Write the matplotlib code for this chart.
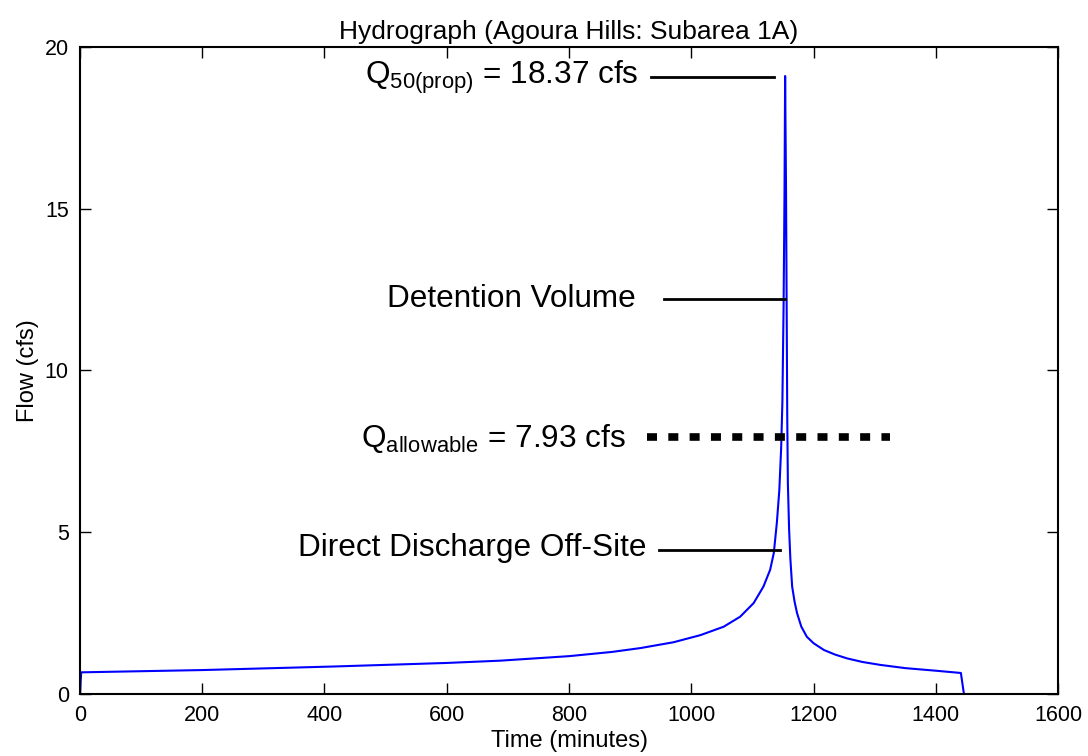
import matplotlib
matplotlib.use("Agg")
import matplotlib.pyplot as plt

plt.rcParams['font.family'] = ['Liberation Sans', 'DejaVu Sans']
plt.rcParams['mathtext.fontset'] = 'custom'
plt.rcParams['mathtext.rm'] = 'Liberation Sans'
plt.rcParams['mathtext.it'] = 'Liberation Sans'

# hydrograph (minutes, cfs)
time_min = [0, 2, 200, 415, 600, 687, 800, 870, 917, 971, 1015, 1053, 1080,
            1102, 1118, 1129, 1135, 1140, 1144, 1147, 1149, 1151, 1152.5, 1153.5,
            1155, 1156, 1157, 1158, 1160, 1162, 1165, 1169, 1173, 1180, 1189,
            1200, 1217, 1235, 1255, 1280, 1309, 1350, 1400, 1441, 1446]
flow_cfs = [0, 0.67, 0.74, 0.85, 0.96, 1.03, 1.17, 1.3, 1.42, 1.6, 1.82, 2.08, 2.39,
            2.81, 3.32, 3.84, 4.36, 5.3, 6.3, 7.6, 9.0, 12.0, 15.5, 19.1,
            15.5, 12.0, 8.5, 6.5, 5.1, 4.2, 3.32, 2.85, 2.5, 2.08, 1.77,
            1.57, 1.36, 1.22, 1.1, 0.99, 0.9, 0.8, 0.72, 0.65, 0]

q_peak = 18.37
q_allow = 7.93
x_ticks = [0, 200, 400, 600, 800, 1000, 1200, 1400, 1600]
y_ticks = [0, 5, 10, 15, 20]

fig = plt.figure(figsize=(10.88, 7.56), dpi=100)
ax = fig.add_axes([0.0735, 0.082, 0.899, 0.856])

ax.plot(time_min, flow_cfs, color='#0000ff', linewidth=1.5)

# annotations
big = 22.7
ax.text(914, 19.07, r'Q$_{\mathregular{50(prop)}}$ = %.2f cfs' % q_peak,
        ha='right', va='center', fontsize=big)
ax.plot([934, 1135], [19.07, 19.07], color='black', linewidth=2)

ax.text(909, 12.2, 'Detention Volume', ha='right', va='center', fontsize=big)
ax.plot([955, 1154], [12.2, 12.2], color='black', linewidth=2)

ax.text(893, 7.9, r'Q$_{\mathregular{allowable}}$ = %.2f cfs' % q_allow,
        ha='right', va='center', fontsize=big)
ax.plot([927, 1325], [q_allow, q_allow], color='black', linewidth=5.5,
        dashes=(1.31, 1.48))

ax.text(927, 4.5, 'Direct Discharge Off-Site', ha='right', va='center', fontsize=big)
ax.plot([947, 1145], [4.46, 4.46], color='black', linewidth=2)

ax.set_xlim(0, 1600)
ax.set_ylim(0, 20)
ax.set_xticks(x_ticks)
ax.set_yticks(y_ticks)
ax.tick_params(direction='in', length=8, width=1, top=True, right=True,
               labelsize=15.5, pad=8)
for s in ax.spines.values():
    s.set_linewidth(1.5)

ax.set_title('Hydrograph (Agoura Hills: Subarea 1A)', fontsize=19, pad=6)
ax.set_xlabel('Time (minutes)', fontsize=17, labelpad=3)
ax.set_ylabel('Flow (cfs)', fontsize=17, labelpad=4)

fig.savefig('out.png', dpi=100)
